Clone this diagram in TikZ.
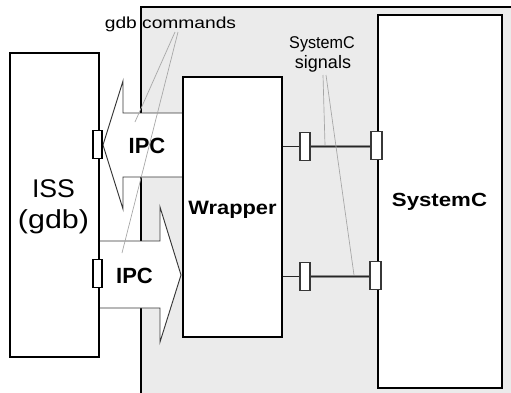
\documentclass[tikz,border=0pt]{standalone}
\usepackage{fontspec}
\setmainfont{Liberation Sans}
\usepackage{graphicx}
\usetikzlibrary{fit}
\definecolor{bgg}{RGB}{235,235,235}
\definecolor{edgec}{RGB}{55,55,55}
\definecolor{calloutc}{RGB}{165,165,165}
\begin{document}
\begin{tikzpicture}[x=0.75pt,y=-0.75pt,
  box/.style={draw=black,line width=1.1pt,fill=white,inner sep=0pt},
  arrowshape/.style={draw=edgec,line width=0.7pt,fill=white,line join=miter},
  port/.style={draw=edgec,line width=0.8pt,fill=white,inner sep=0pt,minimum height=20.5pt},
  lbl/.style={inner sep=0pt,anchor=base},
  callout/.style={draw=calloutc,line width=0.5pt},
  sig/.style={line width=2.2pt,draw=black!45,postaction={draw=black!85,line width=0.75pt,transform canvas={yshift=-0.3pt}}},
  wire/.style={line width=0.9pt,draw=black!85}]
\useasboundingbox (0,0) rectangle (511,393);
% shaded host area
\fill[bgg] (141,7) rectangle (511,393);
\draw[line width=1.1pt] (141,393) -- (141,7) -- (511,7);
% IPC arrows
\draw[arrowshape] (183,113) -- (123,113) -- (123,81) -- (103,145) -- (123,209) -- (123,177) -- (183,177);
\draw[arrowshape] (99,241) -- (160,241) -- (160,207) -- (181,275) -- (160,342) -- (160,308) -- (99,308);
% boxes
\node[box,fit={(10,53) (99,357)}] (iss) {};
\node[box,fit={(183,77) (282,337)}] (wr) {};
\node[box,fit={(378,15) (502,388)}] (sc) {};
% ports
\node[port,draw=black,minimum width=6.75pt] (ip1) at (97.5,144.5) {};
\node[port,draw=black,minimum width=6.75pt] (ip2) at (97.5,273.5) {};
\node[port,minimum width=7.5pt] (wp1) at (305,146.5) {};
\node[port,minimum width=7.5pt] (wp2) at (305,276.5) {};
\node[port,minimum width=8.25pt,minimum height=21pt] (sp1) at (376.5,145.5) {};
\node[port,minimum width=8.25pt,minimum height=21pt] (sp2) at (375.5,275.5) {};
% wires
\draw[wire] (wp1.west -| wr.east) -- (wp1.west);
\draw[wire] (wp2.west -| wr.east) -- (wp2.west);
\draw[sig] (wp1.east) -- (sp1.west |- wp1.east);
\draw[sig] (wp2.east) -- (sp2.west |- wp2.east);
% labels
\node[lbl] (tgdb) at (170.5,28.5) {\fontsize{12}{14}\selectfont\scalebox{1.2}[1]{gdb commands}};
\node[lbl] (tsc1) at (322,48.7) {\fontsize{12.75}{14}\selectfont\scalebox{0.95}[1]{SystemC}};
\node[lbl] (tsc2) at (323,68) {\fontsize{13.5}{15}\selectfont signals};
\node[lbl] (tipc1) at (147,153) {\fontsize{16.5}{18}\selectfont\bfseries IPC};
\node[lbl] (tipc2) at (134.5,283) {\fontsize{16.5}{18}\selectfont\bfseries IPC};
\node[lbl] (twr) at (232.5,214) {\fontsize{14.5}{16}\selectfont\bfseries\scalebox{1.13}[1]{Wrapper}};
\node[lbl] (tsc) at (439.5,206) {\fontsize{14.25}{16}\selectfont\bfseries\scalebox{1.17}[1]{SystemC}};
\node[lbl] (tiss) at (53.5,197) {\fontsize{19.2}{22}\selectfont\scalebox{1.04}[1]{ISS}};
\node[lbl] (tgdb2) at (53.5,228) {\fontsize{19.5}{22}\selectfont\scalebox{1.17}[1]{(gdb)}};
% callouts
\coordinate (ga) at (175,32);
\coordinate (gb) at (178,32);
\coordinate (ge1) at (135,122);
\coordinate (ge2) at (122,253);
\draw[callout] (ga) -- (ge1);
\draw[callout] (gb) -- (ge2);
\coordinate (sa) at (323,75);
\coordinate (sb) at (326,75);
\coordinate (se1) at (325,145);
\coordinate (se2) at (354,275);
\draw[callout] (sa) -- (se1);
\draw[callout] (sb) -- (se2);
\end{tikzpicture}
\end{document}
